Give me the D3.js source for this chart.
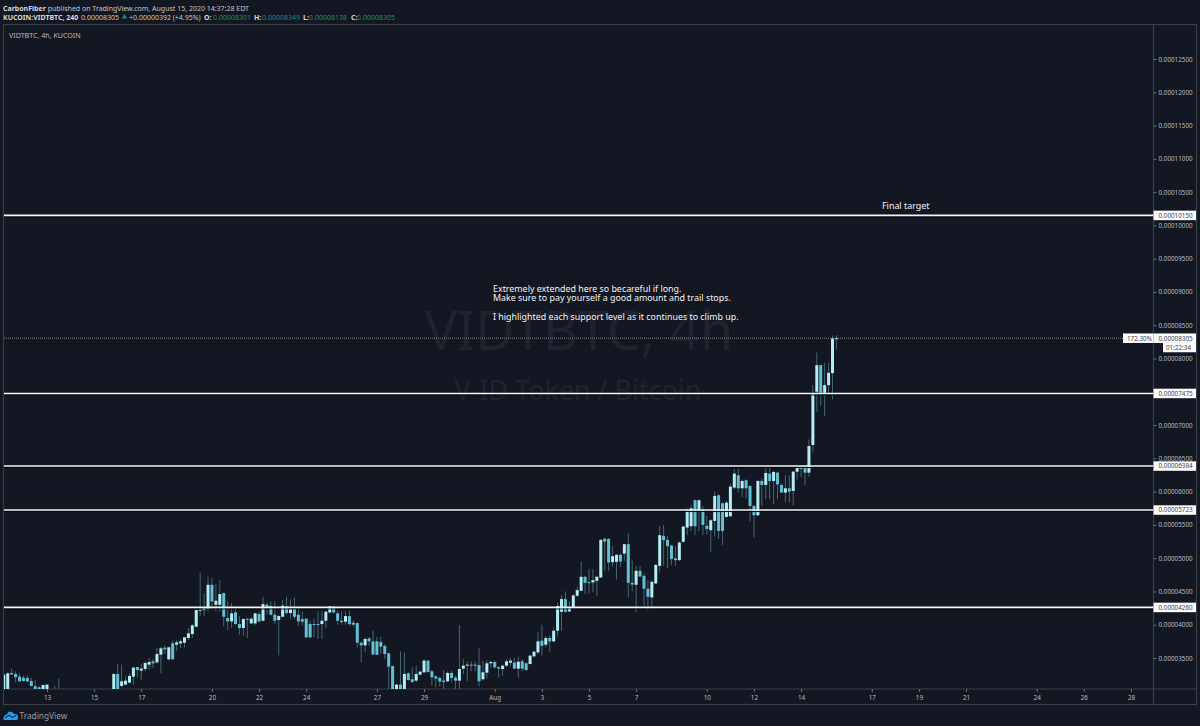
<!DOCTYPE html>
<html><head><meta charset="utf-8">
<style>html,body{margin:0;padding:0;background:#131722;overflow:hidden}svg{display:block}text{font-family:"Noto Sans",sans-serif}</style>
<script src="https://d3js.org/d3.v7.min.js"></script></head><body><svg id="c" width="1200" height="726"></svg>
<script>
// Bars are 4-hour candles, prices in units of 1e-8 BTC. First bar: Jul 11 04:00.
const opens=[3020,3035,3260,3260,3220,3205,3200,3155,3075,3060,3000,3020,3020,2990,2960,2920,2900,2880,2860,2850,2830,2860,2880,2870,2900,2920,2910,2950,
3000,3260,3080,3100,3130,3220,3365,3310,3335,3400,3450,3435,3550,3655,3480,3720,3700,3720,3730,3800,3860,3970,4225,4220,4235,4600,4300,4300,4475,4100,4050,4185,4010,3950,4090,4020,4020,4160,4060,4300,4280,4150,4070,4120,4275,4175,4235,4150,4085,4090,4010,4010,4010,4010,4060,4185,4270,4170,4060,4045,4130,4030,4025,3730,3690,3795,3750,3750,3740,3680,3570,3380,3000,3100,3035,3270,3180,3160,3250,3285,3460,3300,3225,3200,3160,3150,3275,3205,3160,3340,3390,3400,3400,3395,3180,3280,3420,3440,3360,3335,3385,3430,3430,3340,3450,3420,3410,3525,3585,3760,3700,3800,3750,
3910,4195,4385,4200,4260,4435,4510,4720,4640,4635,4660,4710,5290,5290,4940,4945,5050,5070,5210,4630,4600,4810,4735,4540,4410,4620,4885,5335,5275,5190,4995,4970,5245,5460,5480,5870,5720,5720,5485,5420,5560,5945,5825,5620,5630,6060,6245,6050,6170,6085,5785,5645,6160,6100,6270,6160,6285,6100,5985,6050,6010,
6300,6345,6380,6285,6700,7500,7900,7485,7600,7780,8301];
const highs=[3270,3285,3340,3300,3270,3235,3240,3200,3170,3080,3100,3110,3030,3080,3185,2980,2950,2930,2910,2900,2890,2920,2940,2930,2960,2980,2990,3010,
3270,3410,3400,3220,3270,3370,3370,3410,3450,3500,3485,3650,3670,3690,3670,3760,3770,3780,3820,3950,4010,4235,4785,4470,4720,4700,4610,4670,4485,4350,4330,4260,4130,4100,4100,4110,4185,4200,4420,4335,4350,4350,4150,4370,4420,4385,4410,4270,4200,4100,4060,4085,4200,4200,4210,4285,4285,4210,4200,4200,4210,4070,4035,3735,3810,3810,3910,3820,3820,3710,3585,3385,3110,3600,3585,3285,3360,3385,3310,3485,3470,3320,3235,3220,3320,3300,3310,3235,3995,3485,3450,3450,3450,3650,3460,3460,3460,3460,3380,3400,3485,3500,3500,3520,3485,3435,3550,3610,3885,4000,3835,3835,3960,
4335,4445,4500,4350,4460,4570,4950,4730,4840,4840,4730,5285,5310,5300,5185,5060,5070,5210,5375,4980,4885,4885,4770,4670,4660,4910,5485,5500,5335,5200,5185,5250,5485,5750,5800,5885,5885,5785,5635,5585,6000,5960,5835,5860,6120,6335,6345,6185,6185,6095,5800,6170,6200,6370,6370,6310,6300,6120,6250,6250,6310,
6375,6385,6400,6785,7600,8090,7910,7930,7940,8345,8349];
const lows=[3000,3000,3250,3135,3140,3145,3135,3070,3000,2960,2980,2980,2940,2910,2900,2880,2860,2840,2830,2810,2800,2830,2850,2840,2870,2890,2880,2920,
2970,2980,3060,3090,3120,3100,3210,3170,3300,3320,3350,3410,3270,3560,3460,3470,3610,3650,3660,3770,3800,3960,4135,4130,4200,4230,4200,4200,3980,3920,3950,4000,3850,3835,3800,4010,4000,4035,4050,4150,4135,4010,3540,4110,4150,4085,4085,3985,3985,3800,3800,3810,3785,3785,3950,4170,4170,4000,4000,4000,3985,3970,3660,3435,3585,3685,3550,3550,3560,3485,3020,2990,2970,2980,3010,3160,3120,3135,3235,3270,3280,3085,3060,3070,3020,3135,3135,3020,3020,3260,3150,3300,3300,3075,3160,3190,3350,3340,3210,3235,3370,3385,3335,3200,3300,3300,3400,3510,3560,3535,3660,3585,3735,
3820,3910,4180,4190,4250,4420,4500,4460,4470,4485,4435,4700,4810,4810,4870,4680,4870,4960,4410,4500,4190,4710,4285,4220,4250,4610,4785,4885,4850,4900,4885,4960,5235,5350,5410,5350,5410,5345,5350,5095,5320,5290,5200,5610,5620,6035,5985,5920,5900,5550,5310,5630,5785,5885,5885,5810,5885,5985,5835,5835,5790,
6185,6220,6100,6220,6585,7200,7285,7135,7470,7385,8138];
const closes=[3250,3270,3270,3210,3150,3155,3150,3080,3035,3000,3095,3100,2960,2930,2920,2900,2880,2860,2850,2830,2860,2880,2870,2900,2920,2910,2950,2990,
3260,3010,3150,3160,3230,3355,3320,3340,3425,3440,3420,3560,3645,3630,3660,3480,3735,3750,3810,3870,3990,4220,4205,4260,4600,4350,4360,4460,4120,4050,4170,4010,3950,4085,4075,4090,4170,4050,4310,4270,4150,4060,4130,4285,4175,4235,4120,4050,4045,3810,3810,4000,4000,4060,4195,4275,4185,4060,4040,4130,4010,4000,3730,3690,3785,3750,3550,3550,3670,3560,3370,3020,3100,3030,3260,3170,3140,3260,3295,3460,3290,3210,3190,3145,3140,3275,3200,3160,3335,3385,3400,3385,3385,3150,3285,3420,3440,3360,3340,3385,3450,3460,3340,3445,3340,3320,3535,3595,3750,3685,3800,3750,3910,
4280,4385,4195,4260,4440,4520,4720,4630,4625,4670,4720,5275,5250,4935,5030,5050,4950,5210,4630,4605,4810,4725,4540,4420,4645,4900,5345,5270,5180,4990,4970,5235,5475,5710,5750,5480,5870,5500,5440,5570,5935,5410,5410,5835,6075,6270,6050,6160,6050,5785,5645,6160,6100,6280,6160,6295,6110,5985,6050,6000,6300,
6355,6375,6285,6685,7470,7900,7485,7600,7785,8300,8305];
const priceTicks=[3500,4000,4500,5000,5500,6000,6500,7000,7500,8000,8500,9000,9500,10000,10500,11000,11500,12000,12500];
const levels=[10150,7475,6384,5723,4260];
const lastPrice=8305;
const dayTicks=[["2020-07-13","13"],["2020-07-15","15"],["2020-07-17","17"],["2020-07-20","20"],["2020-07-22","22"],["2020-07-24","24"],["2020-07-27","27"],["2020-07-29","29"],["2020-08-01","Aug"],["2020-08-03","3"],["2020-08-05","5"],["2020-08-07","7"],["2020-08-10","10"],["2020-08-12","12"],["2020-08-14","14"],["2020-08-17","17"],["2020-08-19","19"],["2020-08-21","21"],["2020-08-24","24"],["2020-08-26","26"],["2020-08-28","28"]];
const firstBar=Date.UTC(2020,6,11,4), barMs=4*3600e3;

const svg=d3.select("#c");
const bg="#131722",frameC="#3a3e49",axisTxt="#b8bbc3",up="#b4edf4",down="#62c0d5",wick="#456672";
const x=d3.scaleUtc().domain([new Date("2020-07-13"),new Date("2020-08-28")]).range([47,1131]);
const y=d3.scaleLinear().domain([3500,12500]).range([658,59]);
const fmt=v=>(v/1e8).toFixed(8);
const L=4,R=1153.5,T=24.5,B=689,AF=6.3;
svg.append("rect").attr("width",1200).attr("height",726).attr("fill",bg);
svg.append("defs").append("clipPath").attr("id","cp").append("rect").attr("x",L).attr("y",T).attr("width",R-L).attr("height",B-T);

// Watermark
const wm=svg.append("g").attr("text-anchor","middle").attr("fill","#1f232e");
wm.append("text").attr("x",579).attr("y",350).attr("font-size",53.8).attr("font-family","Roboto").text("VIDTBTC, 4h");
wm.append("text").attr("x",578).attr("y",400).attr("font-size",26.9).attr("font-family","Roboto").text("V-ID Token / Bitcoin");

// Frame
const frame=svg.append("g").attr("fill","none").attr("stroke",frameC).attr("stroke-width",1.2);
frame.append("rect").attr("x",3.5).attr("y",T).attr("width",1193).attr("height",704.5-T);
frame.append("line").attr("x1",R).attr("x2",R).attr("y1",T).attr("y2",704.5);
frame.append("line").attr("x1",3.5).attr("x2",1196.5).attr("y1",B).attr("y2",B);

// Candles
const bars=opens.map((o,i)=>({t:new Date(firstBar+i*barMs),o,h:highs[i],l:lows[i],c:closes[i]}));
const plot=svg.append("g").attr("clip-path","url(#cp)");
plot.selectAll("line.w").data(bars).join("line").attr("class","w")
 .attr("x1",d=>x(d.t)).attr("x2",d=>x(d.t)).attr("y1",d=>y(d.h)).attr("y2",d=>y(d.l))
 .attr("stroke",wick).attr("stroke-width",1);
plot.selectAll("rect.b").data(bars).join("rect").attr("class","b")
 .attr("x",d=>x(d.t)-1.5).attr("width",3)
 .attr("y",d=>y(Math.max(d.o,d.c))).attr("height",d=>Math.max(1,Math.abs(y(d.o)-y(d.c))))
 .attr("fill",d=>d.c>=d.o?up:down);

// Level lines
plot.selectAll("line.sh").data(levels).join("line").attr("x1",L).attr("x2",R).attr("y1",d=>y(d)+1.5).attr("y2",d=>y(d)+1.5).attr("stroke","#05070c").attr("stroke-width",1);
plot.selectAll("line.lv").data(levels).join("line").attr("x1",L).attr("x2",R).attr("y1",d=>y(d)).attr("y2",d=>y(d)).attr("stroke","#f4f5f6").attr("stroke-width",1.6);
// last price
svg.append("line").attr("x1",L).attr("x2",1123).attr("y1",y(lastPrice)).attr("y2",y(lastPrice)).attr("stroke","#9a9da5").attr("stroke-width",.8).attr("stroke-dasharray","1 1");

// Axes
const ax=d3.axisRight(y).tickValues(priceTicks).tickFormat(fmt).tickSize(3).tickPadding(2);
const gy=svg.append("g").attr("transform",`translate(${R},0)`).call(ax);
gy.select(".domain").remove();
gy.selectAll("line").attr("stroke","#6b6f78");
gy.selectAll("text").attr("fill",axisTxt).attr("font-size",AF).attr("font-family","Open Sans");
const bx=d3.axisBottom(x).tickValues(dayTicks.map(d=>new Date(d[0]))).tickFormat((d,i)=>dayTicks[i][1]).tickSize(3).tickPadding(3.6);
const gx=svg.append("g").attr("transform",`translate(0,${B})`).call(bx);
gx.select(".domain").remove();
gx.selectAll("line").attr("stroke","#6b6f78");
gx.selectAll("text").attr("fill",axisTxt).attr("font-size",AF).attr("font-family","Open Sans");

// Price labels
function box(x0,w,yc,h,txt,anchorX){
  svg.append("rect").attr("x",x0).attr("y",yc-h/2).attr("width",w).attr("height",h).attr("fill","#fbfbfc");
  svg.append("text").attr("x",anchorX).attr("y",yc+2.3).attr("font-size",AF).attr("font-family","Open Sans").attr("fill","#3d4350").text(txt);
}
levels.forEach(v=>box(1153.5,42.5,y(v),9.5,fmt(v),1158.5));
box(1153.5,42.5,y(lastPrice),9.5,fmt(lastPrice),1158.5);
box(1123,30.5,y(lastPrice),9.5,"172.30%",1127);
box(1163,33,347.5,9.5,"01:22:34",1166);

// Annotations
const an=svg.append("g").attr("fill","#f2f3f5").attr("font-family","'DejaVu Sans'");
[[493,291.5,"Extremely extended here so becareful if long."],[493,301,"Make sure to pay yourself a good amount and trail stops."],[493,319.5,"I highlighted each support level as it continues to climb up."],[882,208.5,"Final target"]]
 .forEach(a=>an.append("text").attr("x",a[0]).attr("y",a[1]).attr("font-size",8.9).text(a[2]));

// Header
const h1=svg.append("text").attr("x",3).attr("y",10.5).attr("font-size",7).attr("fill","#c4c6cc");
h1.append("tspan").attr("font-weight",700).attr("fill","#d6d8dc").text("CarbonFiber");
h1.append("tspan").text(" published on TradingView.com, August 15, 2020 14:37:28 EDT");
const teal="#22897f";
const hdr=[[3,"KUCOIN:VIDTBTC, 240",700,"#d6d8dc"],[81,"0.00008305",400,"#c4c6cc"],[129,"+0.00000392 (+4.95%)",400,"#c4c6cc"],[204,"O:",700,"#d6d8dc"],[213,"0.00008301",400,teal],[254,"H:",700,"#d6d8dc"],[262,"0.00008349",400,teal],[303,"L:",700,"#d6d8dc"],[309,"0.00008138",400,teal],[351,"C:",700,"#d6d8dc"],[357,"0.00008305",400,teal]];
hdr.forEach(a=>svg.append("text").attr("x",a[0]).attr("y",19.5).attr("font-size",7).attr("font-weight",a[2]).attr("fill",a[3]).text(a[1]));
svg.append("path").attr("d",d3.symbol(d3.symbolTriangle,12)()).attr("transform","translate(124.5,17)").attr("fill",teal);
svg.append("text").attr("x",9).attr("y",37.5).attr("font-size",7.1).attr("fill","#b8bbc3").text("VIDTBTC, 4h, KUCOIN");

// Logo
svg.append("path").attr("d","M3.5 720 Q3 714.5 7 714.5 Q8 710 12 712 L14 714 Q18 713.5 18 717 Q18.5 720 16 720 Z").attr("fill","#2a9bea");
svg.append("path").attr("d","M5 718 L9 715 L12 717.5 L16 715.5").attr("fill","none").attr("stroke","#131722").attr("stroke-width",1);
svg.append("text").attr("x",19.5).attr("y",718.5).attr("font-size",8.3).attr("fill","#9a9ea8").text("TradingView");
</script></body></html>
